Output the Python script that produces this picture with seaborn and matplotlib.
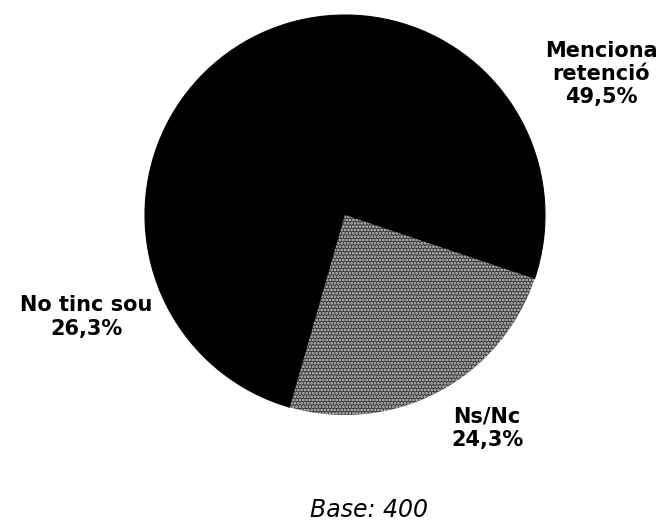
import matplotlib
matplotlib.use("Agg")
import matplotlib.pyplot as plt
import seaborn as sns

# Data
labels = ["Menciona\nretenció", "No tinc sou", "Ns/Nc"]
shares = [49.5, 26.3, 24.3]
pct_text = ["49,5%", "26,3%", "24,3%"]

sns.set_theme(style="white")
plt.rcParams["font.family"] = ["DejaVu Sans"]
plt.rcParams["hatch.linewidth"] = 1.3

W, H = 667, 526
fig = plt.figure(figsize=(W / 100, H / 100), dpi=100)
fig.patch.set_facecolor("white")

# pie axes placed by pixel box (centre ~ (345,215), radius ~200)
ax = fig.add_axes([145 / W, (H - 415) / H, 400 / W, 400 / H])
wedges, _ = ax.pie(shares, colors=["black", "black", "#3a3a3a"],
                   startangle=-18.6, counterclock=True,
                   wedgeprops=dict(linewidth=0.8, edgecolor="black"))
wedges[2].set_hatch(".....")
wedges[2].set_edgecolor("#cfcfcf")
wedges[2].set_linewidth(0)
ax.set_xlim(-1, 1)
ax.set_ylim(-1, 1)
ax.set_aspect("equal")
ax.axis("off")

# labels (figure pixel positions)
pos = [(601, 74), (86, 317), (487, 428)]
for lab, pct, (x, y) in zip(labels, pct_text, pos):
    fig.text(x / W, 1 - y / H, f"{lab}\n{pct}", ha="center", va="center",
             fontsize=15, fontweight="bold", linespacing=1.2, color="black")

fig.text(369 / W, 1 - 510 / H, "Base: 400", ha="center", va="center",
         fontsize=17, fontstyle="italic", color="black")

fig.savefig("out.png", dpi=100, facecolor="white")
